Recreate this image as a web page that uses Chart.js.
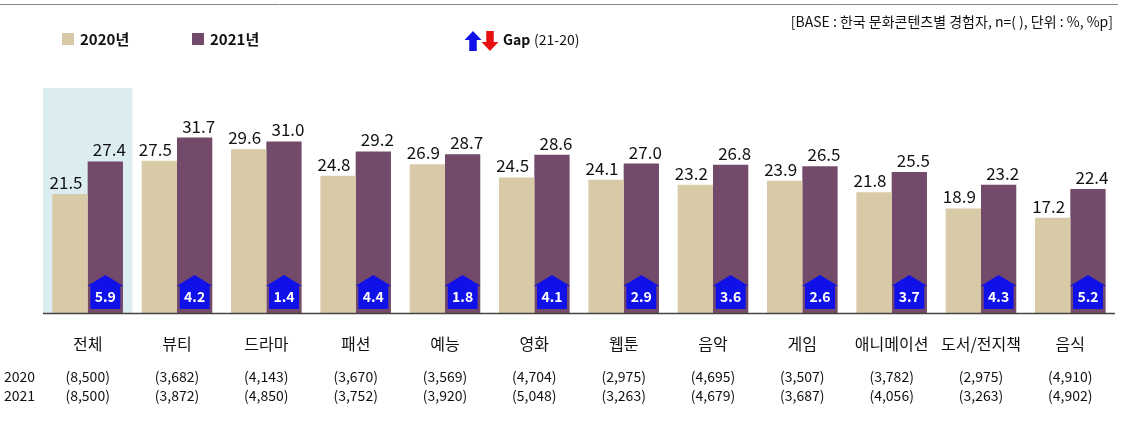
<!DOCTYPE html><html><head><meta charset="utf-8">
<script src="https://cdn.jsdelivr.net/npm/chart.js@4"></script>
<style>body{margin:0;background:#fff}#w{width:1123px;height:425px;position:relative}</style></head><body><div id="w"><canvas id="c"></canvas></div>
<script>
const categories=["전체","뷰티","드라마","패션","예능","영화","웹툰","음악","게임","애니메이션","도서/전지책","음식"];
const v2020=[21.5,27.5,29.6,24.8,26.9,24.5,24.1,23.2,23.9,21.8,18.9,17.2];
const v2021=[27.4,31.7,31.0,29.2,28.7,28.6,27.0,26.8,26.5,25.5,23.2,22.4];
const gap=[5.9,4.2,1.4,4.4,1.8,4.1,2.9,3.6,2.6,3.7,4.3,5.2];
const n2020=["(8,500)","(3,682)","(4,143)","(3,670)","(3,569)","(4,704)","(2,975)","(4,695)","(3,507)","(3,782)","(2,975)","(4,910)"];
const n2021=["(8,500)","(3,872)","(4,850)","(3,752)","(3,920)","(5,048)","(3,263)","(4,679)","(3,687)","(4,056)","(3,263)","(4,902)"];
const F="'Noto Sans CJK KR','Noto Sans',sans-serif";
const C20="#D8C9A7",C21="#734A69";
function arrow(ctx,x,yb,w,h,color){const sh=w*0.28,hh=h*0.32;ctx.beginPath();ctx.moveTo(x,yb-h);ctx.lineTo(x+w/2,yb-h+hh);ctx.lineTo(x+w/2-sh*0.3,yb-h+hh);ctx.lineTo(x+w/2-sh*0.3,yb);ctx.lineTo(x-w/2+sh*0.3,yb);ctx.lineTo(x-w/2+sh*0.3,yb-h+hh);ctx.lineTo(x-w/2,yb-h+hh);ctx.closePath();ctx.fillStyle=color;ctx.fill();}
function down(ctx,x,yt,w,h,color){const hh=h*0.45,s=w*0.22;ctx.beginPath();ctx.moveTo(x,yt+h);ctx.lineTo(x+w/2,yt+h-hh);ctx.lineTo(x+s,yt+h-hh);ctx.lineTo(x+s,yt);ctx.lineTo(x-s,yt);ctx.lineTo(x-s,yt+h-hh);ctx.lineTo(x-w/2,yt+h-hh);ctx.closePath();ctx.fillStyle=color;ctx.fill();}
function up(ctx,x,yt,w,h,color){const hh=h*0.45,s=w*0.22;ctx.beginPath();ctx.moveTo(x,yt);ctx.lineTo(x+w/2,yt+hh);ctx.lineTo(x+s,yt+hh);ctx.lineTo(x+s,yt+h);ctx.lineTo(x-s,yt+h);ctx.lineTo(x-s,yt+hh);ctx.lineTo(x-w/2,yt+hh);ctx.closePath();ctx.fillStyle=color;ctx.fill();}
const plug={id:'p',
beforeDatasetsDraw(ch){const c=ch.ctx,x=ch.scales.x,y=ch.scales.y;const w=(x.getPixelForValue(1)-x.getPixelForValue(0));c.save();c.fillStyle="#DCEDF2";c.fillRect(x.getPixelForValue(0)-w/2,88,w,y.getPixelForValue(0)-88);c.restore();},
afterDatasetsDraw(ch){const c=ch.ctx,x=ch.scales.x,y=ch.scales.y;c.save();
const m1=ch.getDatasetMeta(0),m2=ch.getDatasetMeta(1);c.font="17px "+F;c.fillStyle="#111";c.textAlign="center";c.textBaseline="bottom";
m1.data.forEach((b,i)=>{c.fillText(v2020[i].toFixed(1),b.x-4,b.y-3);});
m2.data.forEach((b,i)=>{c.fillText(v2021[i].toFixed(1),b.x+4,b.y-3);});
const y0=y.getPixelForValue(0);
m2.data.forEach((b,i)=>{arrow(c,b.x,y0-4,36,34,"#1010E8");c.fillStyle="#fff";c.font="bold 14px "+F;c.textBaseline="middle";c.fillText(gap[i].toFixed(1),b.x,y0-16);});
c.strokeStyle="#444";c.lineWidth=1.5;c.beginPath();c.moveTo(43,y0+0.5);c.lineTo(1115,y0+0.5);c.stroke();
c.fillStyle="#111";c.font="16px "+F;c.textBaseline="middle";
categories.forEach((t,i)=>{const px=x.getPixelForValue(i);c.fillText(t,px,344);c.font="14px "+F;c.fillText(n2020[i],px,377);c.fillText(n2021[i],px,396);c.font="16px "+F;});
c.font="14px "+F;c.textAlign="left";c.fillText("2020",4,377);c.fillText("2021",4,396);
c.strokeStyle="#888";c.lineWidth=1;c.beginPath();c.moveTo(0,4.5);c.lineTo(1118,4.5);c.stroke();
c.font="14px "+F;c.textAlign="right";c.fillText("[BASE : 한국 문화콘텐츠별 경험자, n=( ), 단위 : %, %p]",1113,22);
c.textAlign="left";c.fillStyle=C20;c.fillRect(62,33,12,12);c.fillStyle=C21;c.fillRect(192,33,12,12);
c.fillStyle="#111";c.font="bold 15px "+F;c.fillText("2020년",80,39);c.fillText("2021년",210,39);
up(c,473,31,17,20,"#1010E8");down(c,490,31,17,20,"#E81010");
c.fillStyle="#111";c.font="bold 14px "+F;c.fillText("Gap",503,40);c.font="14px "+F;c.fillText("(21-20)",534,40);
c.restore();}};
new Chart(document.getElementById('c'),{type:'bar',data:{labels:categories,datasets:[
{data:v2020,backgroundColor:C20,categoryPercentage:0.79,barPercentage:1},
{data:v2021,backgroundColor:C21,categoryPercentage:0.79,barPercentage:1}]},
options:{responsive:true,maintainAspectRatio:false,animation:false,events:[],
layout:{padding:{left:43,right:8,top:64,bottom:104}},
plugins:{legend:{display:false},tooltip:{enabled:false}},
scales:{x:{grid:{display:false},border:{display:false},ticks:{display:false}},
y:{min:0,max:45,display:false}}}, plugins:[plug]});
</script></body></html>
